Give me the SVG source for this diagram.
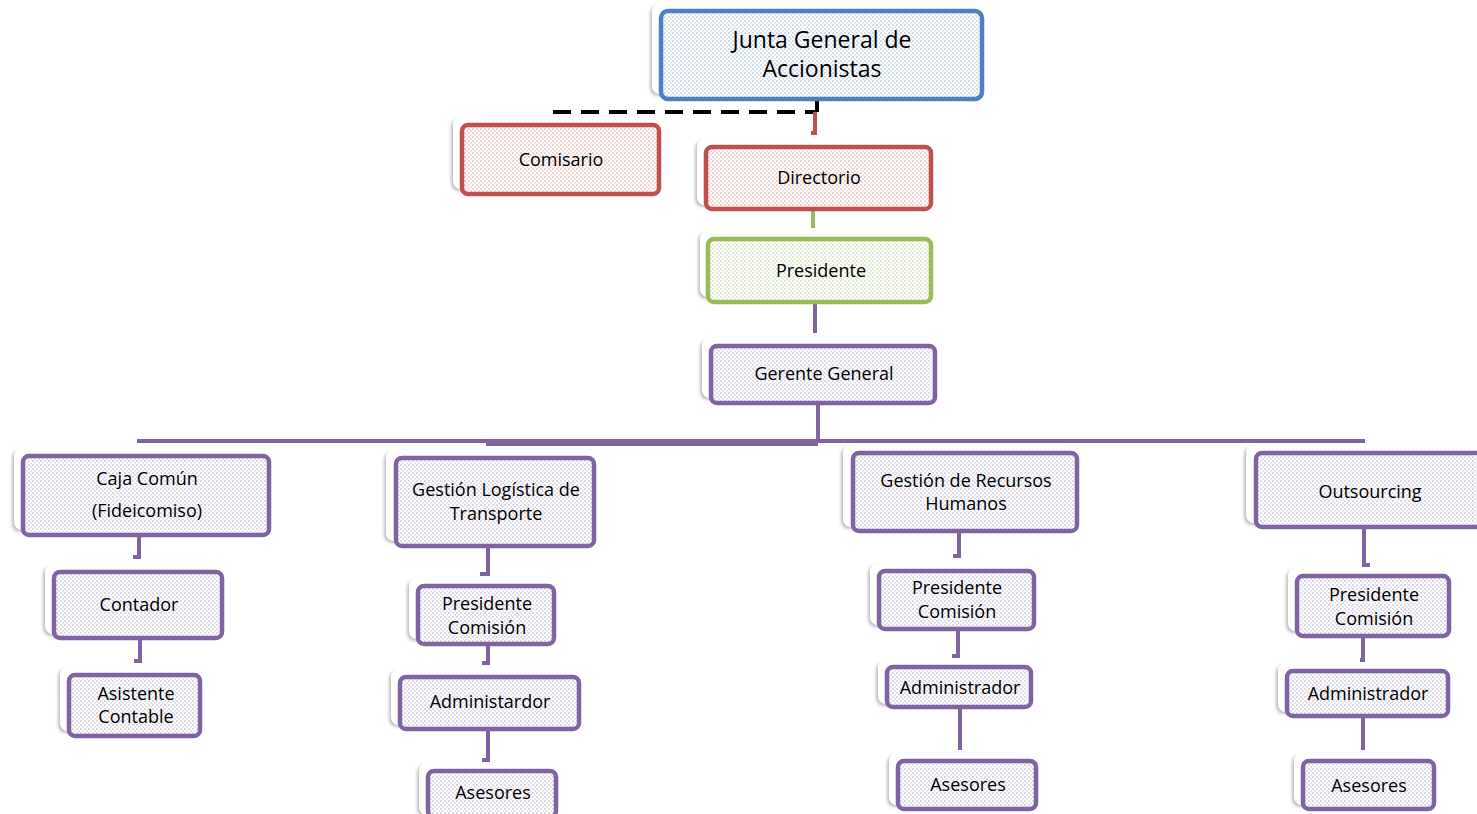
<svg xmlns="http://www.w3.org/2000/svg" width="1477" height="814" viewBox="0 0 1477 814">
  <defs>
    <pattern id="dotBlue" width="4" height="4" patternUnits="userSpaceOnUse">
      <rect width="4" height="4" fill="#ffffff"/>
      <circle cx="1" cy="1" r="0.9" fill="#bfcde6"/>
      <circle cx="3" cy="3" r="0.9" fill="#cfdaec"/>
    </pattern>
    <pattern id="dotRed" width="4" height="4" patternUnits="userSpaceOnUse">
      <rect width="4" height="4" fill="#ffffff"/>
      <circle cx="1" cy="1" r="0.9" fill="#ecbfbf"/>
      <circle cx="3" cy="3" r="0.9" fill="#f0cfcf"/>
    </pattern>
    <pattern id="dotGreen" width="4" height="4" patternUnits="userSpaceOnUse">
      <rect width="4" height="4" fill="#ffffff"/>
      <circle cx="1" cy="1" r="0.9" fill="#d4e1bf"/>
      <circle cx="3" cy="3" r="0.9" fill="#dfe9cf"/>
    </pattern>
    <pattern id="dotPurple" width="4" height="4" patternUnits="userSpaceOnUse">
      <rect width="4" height="4" fill="#ffffff"/>
      <circle cx="1" cy="1" r="0.9" fill="#cfcadc"/>
      <circle cx="3" cy="3" r="0.9" fill="#dbd7e5"/>
    </pattern>
    <filter id="soft" x="-10%" y="-20%" width="120%" height="140%">
      <feDropShadow dx="-2" dy="2" stdDeviation="1.5" flood-color="#8a8a8a" flood-opacity="0.55"/>
    </filter>
  </defs>
  <style>
    .back { fill: #ffffff; filter: url(#soft); }
    .box { stroke-width: 4.5; }
    .blue { fill: url(#dotBlue); stroke: #4f81bd; }
    .red { fill: url(#dotRed); stroke: #c0504d; }
    .green { fill: url(#dotGreen); stroke: #9bbb59; }
    .purple { fill: url(#dotPurple); stroke: #8064a2; }
    text { font-family: "Open Sans", "Liberation Sans", sans-serif; font-size: 18px; fill: #000000; text-anchor: middle; }
    .big { font-size: 23px; }
    .link { fill: none; stroke: #8064a2; stroke-width: 4; }
  </style>

  <!-- connectors -->
  <g id="connectors">
    <path d="M553 112 H815" fill="none" stroke="#000000" stroke-width="4" stroke-dasharray="18 10"/>
    <path d="M817 100 V112" fill="none" stroke="#000000" stroke-width="4"/>
    <path d="M815 112 V133 H811" fill="none" stroke="#c0504d" stroke-width="4"/>
    <path d="M813 210 V228" fill="none" stroke="#9bbb59" stroke-width="4"/>
    <path class="link" d="M815 303 V333"/>
    <path class="link" d="M818 404 V441"/>
    <path class="link" d="M137 441 H1365"/>
    <path d="M486 444 H818" fill="none" stroke="#8064a2" stroke-width="4"/>
    <!-- Caja Común column -->
    <path class="link" d="M139 536 V557 H133"/>
    <path class="link" d="M140 639 V661 H134"/>
    <!-- Logística column -->
    <path class="link" d="M488 547 V574 H480"/>
    <path class="link" d="M488 645 V663 H482"/>
    <path class="link" d="M488 730 V760 H482"/>
    <!-- Recursos Humanos column -->
    <path class="link" d="M959 532 V556 H953"/>
    <path class="link" d="M958 630 V656 H952"/>
    <path class="link" d="M960 708 V750"/>
    <!-- Outsourcing column -->
    <path class="link" d="M1364 528 V565 H1370"/>
    <path class="link" d="M1363 637 V660 H1360"/>
    <path class="link" d="M1363 717 V750"/>
  </g>

  <g id="junta">
    <rect class="back" x="652" y="4" width="322" height="90" rx="8"/>
    <rect class="box blue" x="661" y="11" width="321" height="88" rx="7"/>
    <text class="big" x="822" y="48">Junta General de</text>
    <text class="big" x="822" y="77">Accionistas</text>
  </g>

  <g id="comisario">
    <rect class="back" x="453" y="117" width="198" height="72" rx="8"/>
    <rect class="box red" x="462" y="125" width="197" height="69" rx="6"/>
    <text x="561" y="166">Comisario</text>
  </g>

  <g id="directorio">
    <rect class="back" x="697" y="139" width="226" height="66" rx="8"/>
    <rect class="box red" x="706" y="147" width="225" height="62" rx="6"/>
    <text x="819" y="184">Directorio</text>
  </g>

  <g id="presidente">
    <rect class="back" x="700" y="231" width="224" height="66" rx="8"/>
    <rect class="box green" x="708" y="239" width="223" height="63" rx="6"/>
    <text x="821" y="277">Presidente</text>
  </g>

  <g id="gerente">
    <rect class="back" x="702" y="338" width="225" height="60" rx="8"/>
    <rect class="box purple" x="711" y="346" width="224" height="57" rx="6"/>
    <text x="824" y="380">Gerente General</text>
  </g>

  <!-- Caja Común column -->
  <g id="caja">
    <rect class="back" x="14" y="448" width="247" height="82" rx="8"/>
    <rect class="box purple" x="23" y="456" width="246" height="79" rx="6"/>
    <text x="147" y="485">Caja Común</text>
    <text x="147" y="517">(Fideicomiso)</text>
  </g>
  <g id="contador">
    <rect class="back" x="45" y="564" width="170" height="70" rx="8"/>
    <rect class="box purple" x="54" y="572" width="168" height="66" rx="6"/>
    <text x="139" y="611">Contador</text>
  </g>
  <g id="asistente">
    <rect class="back" x="60" y="667" width="132" height="64" rx="8"/>
    <rect class="box purple" x="69" y="675" width="131" height="61" rx="6"/>
    <text x="136" y="700">Asistente</text>
    <text x="136" y="723">Contable</text>
  </g>

  <!-- Logística column -->
  <g id="logistica">
    <rect class="back" x="386" y="450" width="201" height="91" rx="8"/>
    <rect class="box purple" x="396" y="458" width="198" height="88" rx="6"/>
    <text x="496" y="496">Gestión Logística de</text>
    <text x="496" y="520">Transporte</text>
  </g>
  <g id="log-presidente">
    <rect class="back" x="409" y="578" width="138" height="61" rx="8"/>
    <rect class="box purple" x="418" y="586" width="136" height="58" rx="6"/>
    <text x="487" y="610">Presidente</text>
    <text x="487" y="634">Comisión</text>
  </g>
  <g id="log-admin">
    <rect class="back" x="391" y="669" width="181" height="56" rx="8"/>
    <rect class="box purple" x="400" y="677" width="179" height="52" rx="6"/>
    <text x="490" y="708">Administardor</text>
  </g>
  <g id="log-asesores">
    <rect class="back" x="419" y="763" width="130" height="52" rx="8"/>
    <rect class="box purple" x="428" y="771" width="128" height="46" rx="6"/>
    <text x="493" y="799">Asesores</text>
  </g>

  <!-- Recursos Humanos column -->
  <g id="rrhh">
    <rect class="back" x="843" y="445" width="227" height="82" rx="8"/>
    <rect class="box purple" x="853" y="453" width="224" height="78" rx="6"/>
    <text x="966" y="487">Gestión de Recursos</text>
    <text x="966" y="510">Humanos</text>
  </g>
  <g id="rrhh-presidente">
    <rect class="back" x="870" y="563" width="157" height="62" rx="8"/>
    <rect class="box purple" x="879" y="571" width="155" height="58" rx="6"/>
    <text x="957" y="594">Presidente</text>
    <text x="957" y="618">Comisión</text>
  </g>
  <g id="rrhh-admin">
    <rect class="back" x="878" y="660" width="146" height="44" rx="8"/>
    <rect class="box purple" x="887" y="667" width="144" height="40" rx="6"/>
    <text x="960" y="694">Administrador</text>
  </g>
  <g id="rrhh-asesores">
    <rect class="back" x="889" y="753" width="140" height="52" rx="8"/>
    <rect class="box purple" x="898" y="761" width="138" height="48" rx="6"/>
    <text x="968" y="791">Asesores</text>
  </g>

  <!-- Outsourcing column -->
  <g id="outsourcing">
    <rect class="back" x="1246" y="445" width="240" height="78" rx="8"/>
    <rect class="box purple" x="1256" y="453" width="236" height="74" rx="6"/>
    <text x="1370" y="498">Outsourcing</text>
  </g>
  <g id="out-presidente">
    <rect class="back" x="1288" y="568" width="154" height="63" rx="8"/>
    <rect class="box purple" x="1297" y="576" width="152" height="60" rx="6"/>
    <text x="1374" y="601">Presidente</text>
    <text x="1374" y="625">Comisión</text>
  </g>
  <g id="out-admin">
    <rect class="back" x="1278" y="663" width="162" height="49" rx="8"/>
    <rect class="box purple" x="1287" y="671" width="161" height="45" rx="6"/>
    <text x="1368" y="700">Administrador</text>
  </g>
  <g id="out-asesores">
    <rect class="back" x="1294" y="753" width="133" height="52" rx="8"/>
    <rect class="box purple" x="1303" y="761" width="131" height="48" rx="6"/>
    <text x="1369" y="792">Asesores</text>
  </g>
</svg>
